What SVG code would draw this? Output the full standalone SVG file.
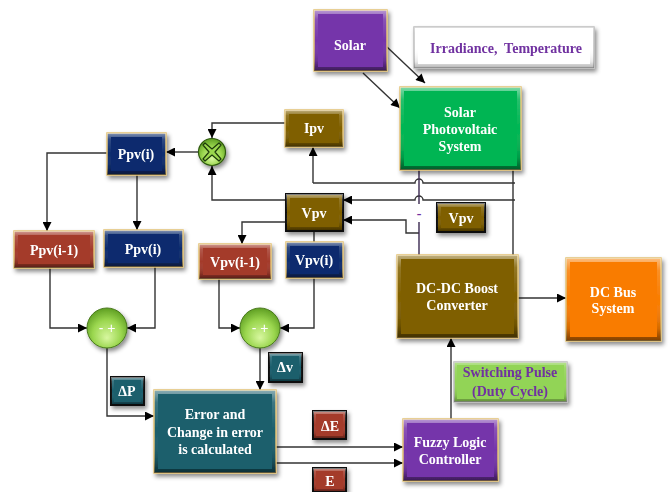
<svg xmlns="http://www.w3.org/2000/svg" width="671" height="492" viewBox="0 0 671 492">
<style>
.node{filter:url(#sh)}
.b{stroke:#E2C275;stroke-width:1.5}
.k .b{stroke:#111;stroke-width:2}
.w .b{stroke:#BDBDBD}
.bv{fill:url(#bev)}
.purple .c{fill:#7535AA}
.green .c{fill:#00B553}
.brown .c{fill:#7F5F00}
.blue .c{fill:#0C2C6E}
.red .c{fill:#A43B2B}
.teal .c{fill:#1A5E6C}
.orange .c{fill:#F97C00}
.lgreen .c{fill:#92D456}
.white .c{fill:#FFFFFF}
text{font-family:"Liberation Serif","Times New Roman",serif;font-weight:bold;font-size:14px;fill:#FFFFFF;text-anchor:middle}
text.p{fill:#7030A0}
text.s{font-family:"Liberation Sans",Arial,sans-serif;font-weight:normal;font-size:14px}
.ln{fill:none;stroke:#333;stroke-width:1.4}
.ar{marker-end:url(#ah)}
</style>
<defs>
<filter id="sh" x="-15%" y="-15%" width="140%" height="150%"><feDropShadow dx="2" dy="3" stdDeviation="2" flood-color="#000" flood-opacity="0.45"/></filter>
<linearGradient id="bev" x1="0" y1="0" x2="0" y2="1">
<stop offset="0" stop-color="#fff" stop-opacity="0.5"/>
<stop offset="0.15" stop-color="#fff" stop-opacity="0.15"/>
<stop offset="0.5" stop-color="#fff" stop-opacity="0"/>
<stop offset="0.85" stop-color="#000" stop-opacity="0.15"/>
<stop offset="1" stop-color="#000" stop-opacity="0.5"/>
</linearGradient>
<radialGradient id="ball" cx="0.5" cy="0.6" r="0.6" fx="0.5" fy="0.75">
<stop offset="0" stop-color="#D8F7A0"/>
<stop offset="0.6" stop-color="#9AD64E"/>
<stop offset="1" stop-color="#5E9E22"/>
</radialGradient>
<marker id="ah" viewBox="0 0 10 10" refX="10" refY="5" markerWidth="11" markerHeight="9" markerUnits="userSpaceOnUse" orient="auto"><path d="M0,0 L10,5 L0,10 z" fill="#000"/></marker>
</defs>
<rect width="671" height="492" fill="#fff"/>

<g id="connectors">
<path class="ln ar" d="M387,47 L425,83"/>
<path class="ln ar" d="M363,73 L400,108"/>
<path class="ln ar" d="M285,123 H212 V138"/>
<path class="ln ar" d="M286,200 H212 V166"/>
<path class="ln ar" d="M198,152 H166"/>
<path class="ln ar" d="M107,153 H47 V231"/>
<path class="ln ar" d="M137,175 V230"/>
<path class="ln ar" d="M286,222 H242 V244"/>
<path class="ln" d="M314,231 V242"/>
<path class="ln ar" d="M313,183 V147"/>
<path class="ln" d="M313,183 H415 A4,4 0 0 1 423,183 H515"/>
<path class="ln ar" d="M515,200 H423 A4,4 0 0 0 415,200 H343"/>
<path class="ln ar" d="M419,233 H406 V220 H343"/>
<path class="ln" d="M419,170 V255" style="stroke:#3A2950"/>
<path class="ln" d="M513,170 V255"/>
<rect x="414" y="204" width="10" height="18" fill="#fff"/>
<text x="419" y="218" class="p">-</text>
<path class="ln ar" d="M50,268 V328 H87"/>
<path class="ln ar" d="M155,267 V328 H127"/>
<path class="ln ar" d="M219,279 V328 H240"/>
<path class="ln ar" d="M314,278 V328 H280"/>
<path class="ln ar" d="M107,348 V416 H154"/>
<path class="ln ar" d="M260,348 V390"/>
<path class="ln ar" d="M276,447 H403"/>
<path class="ln ar" d="M276,463 H403"/>
<path class="ln ar" d="M451,419 V338"/>
<path class="ln ar" d="M518,298 H566"/>
</g>

<g id="solar" class="node purple"><rect class="b c" x="314" y="10" width="73" height="61"/><rect class="bv" x="314" y="10" width="73" height="61"/><rect class="c" x="318" y="14" width="65" height="53"/><text x="350" y="50">Solar</text></g>
<g id="irradiance" class="node white w"><rect class="b c" x="414" y="27" width="180" height="41"/><rect class="bv" x="414" y="27" width="180" height="41" opacity="0.6"/><rect class="c" x="418" y="31" width="172" height="33"/><text class="p" x="506" y="53" xml:space="preserve">Irradiance,  Temperature</text></g>
<g id="pv" class="node green"><rect class="b c" x="400" y="87" width="121" height="83"/><rect class="bv" x="400" y="87" width="121" height="83"/><rect class="c" x="404" y="91" width="113" height="75"/><text x="460" y="117">Solar</text><text x="460" y="134">Photovoltaic</text><text x="460" y="151">System</text></g>
<g id="ipv" class="node brown"><rect class="b c" x="285" y="110" width="58" height="37"/><rect class="bv" x="285" y="110" width="58" height="37"/><rect class="c" x="289" y="114" width="50" height="29"/><text x="314" y="133">Ipv</text></g>
<g id="mult" class="node"><circle cx="212" cy="152" r="13.5" fill="url(#ball)" stroke="#2F5A10" stroke-width="1.2"/><path d="M205,143 L212,149 L219,143 L221,145 L215,152 L221,159 L219,161 L212,155 L205,161 L203,159 L209,152 L203,145 Z" fill="#9AD64E" stroke="#1D3A08" stroke-width="1.2" stroke-linejoin="round"/></g>
<g id="ppv-top" class="node blue"><rect class="b c" x="107" y="133" width="59" height="42"/><rect class="bv" x="107" y="133" width="59" height="42"/><rect class="c" x="111" y="137" width="51" height="34"/><text x="136" y="159">Ppv(i)</text></g>
<g id="ppv-prev" class="node red"><rect class="b c" x="14" y="231" width="80" height="37"/><rect class="bv" x="14" y="231" width="80" height="37"/><rect class="c" x="18" y="235" width="72" height="29"/><text x="54" y="255">Ppv(i-1)</text></g>
<g id="ppv-cur" class="node blue"><rect class="b c" x="104" y="230" width="79" height="37"/><rect class="bv" x="104" y="230" width="79" height="37"/><rect class="c" x="108" y="234" width="71" height="29"/><text x="143" y="254">Ppv(i)</text></g>
<g id="vpv" class="node brown k"><rect class="b c" x="286" y="194" width="57" height="37"/><rect class="bv" x="286" y="194" width="57" height="37"/><rect class="c" x="290" y="198" width="49" height="29"/><text x="314" y="218">Vpv</text></g>
<g id="vpv-prev" class="node red"><rect class="b c" x="199" y="244" width="72" height="35"/><rect class="bv" x="199" y="244" width="72" height="35"/><rect class="c" x="203" y="248" width="64" height="27"/><text x="235" y="267">Vpv(i-1)</text></g>
<g id="vpv-cur" class="node blue"><rect class="b c" x="286" y="242" width="57" height="36"/><rect class="bv" x="286" y="242" width="57" height="36"/><rect class="c" x="290" y="246" width="49" height="28"/><text x="314" y="265">Vpv(i)</text></g>
<g id="vpv-side" class="node brown k"><rect class="b c" x="437" y="203" width="48" height="29"/><rect class="bv" x="437" y="203" width="48" height="29"/><rect class="c" x="441" y="207" width="40" height="21"/><text x="461" y="223">Vpv</text></g>
<g id="dcdc" class="node brown"><rect class="b c" x="397" y="255" width="121" height="83"/><rect class="bv" x="397" y="255" width="121" height="83"/><rect class="c" x="401" y="259" width="113" height="75"/><text x="457" y="293">DC-DC Boost</text><text x="457" y="310">Converter</text></g>
<g id="dcbus" class="node orange"><rect class="b c" x="566" y="258" width="95" height="83"/><rect class="bv" x="566" y="258" width="95" height="83"/><rect class="c" x="570" y="262" width="87" height="75"/><text x="613" y="297">DC Bus</text><text x="613" y="313">System</text></g>
<g id="sum-p" class="node"><circle cx="107" cy="328" r="20" fill="url(#ball)" stroke="#4A7A1E" stroke-width="1"/><text class="s" x="107" y="333" xml:space="preserve">- +</text></g>
<g id="sum-v" class="node"><circle cx="260" cy="328" r="20" fill="url(#ball)" stroke="#4A7A1E" stroke-width="1"/><text class="s" x="260" y="333" xml:space="preserve">- +</text></g>
<g id="dp" class="node teal k"><rect class="b c" x="111" y="377" width="33" height="28"/><rect class="bv" x="111" y="377" width="33" height="28"/><rect class="c" x="114" y="380" width="27" height="22"/><text x="127" y="396">ΔP</text></g>
<g id="dv" class="node teal k"><rect class="b c" x="269" y="353" width="33" height="29"/><rect class="bv" x="269" y="353" width="33" height="29"/><rect class="c" x="272" y="356" width="27" height="23"/><text x="285" y="372">Δv</text></g>
<g id="error" class="node teal"><rect class="b c" x="154" y="390" width="122" height="83"/><rect class="bv" x="154" y="390" width="122" height="83"/><rect class="c" x="158" y="394" width="114" height="75"/><text x="215" y="419">Error and</text><text x="215" y="437">Change in error</text><text x="215" y="454">is calculated</text></g>
<g id="switch" class="node lgreen w"><rect class="b c" x="454" y="362" width="113" height="40"/><rect class="bv" x="454" y="362" width="113" height="40" opacity="0.7"/><rect class="c" x="457" y="365" width="107" height="34"/><text class="p" x="510" y="377">Switching Pulse</text><text class="p" x="510" y="396">(Duty Cycle)</text></g>
<g id="de" class="node red k"><rect class="b c" x="313" y="411" width="33" height="28"/><rect class="bv" x="313" y="411" width="33" height="28"/><rect class="c" x="316" y="414" width="27" height="22"/><text x="330" y="431">ΔE</text></g>
<g id="e" class="node red k"><rect class="b c" x="313" y="468" width="33" height="24"/><rect class="bv" x="313" y="468" width="33" height="24"/><rect class="c" x="316" y="471" width="27" height="18"/><text x="330" y="486">E</text></g>
<g id="fuzzy" class="node purple"><rect class="b c" x="403" y="419" width="95" height="62"/><rect class="bv" x="403" y="419" width="95" height="62"/><rect class="c" x="407" y="423" width="87" height="54"/><text x="450" y="447">Fuzzy Logic</text><text x="450" y="464">Controller</text></g>
</svg>
